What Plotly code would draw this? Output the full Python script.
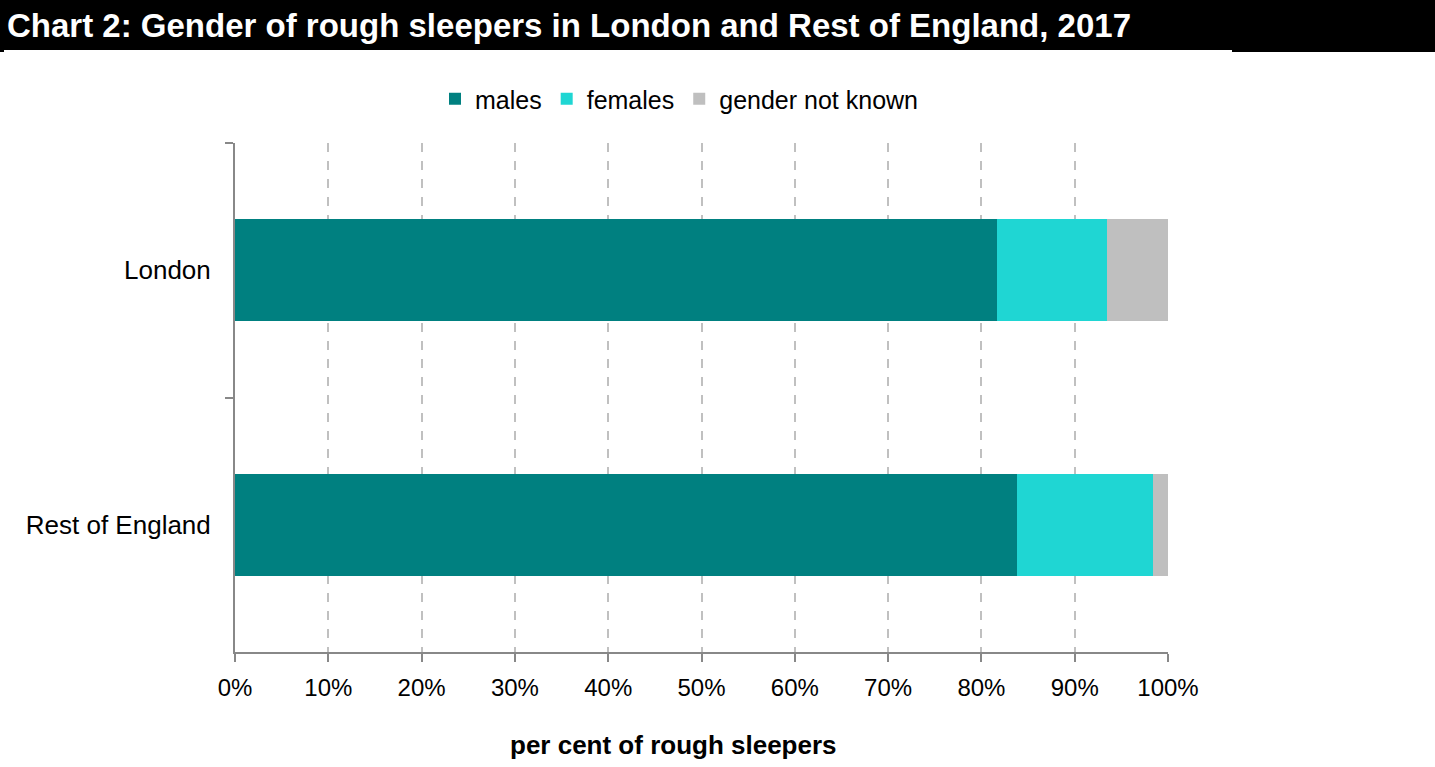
import plotly.graph_objects as go

categories = ["London", "Rest of England"]
males = [81.7, 83.8]
females = [11.8, 14.6]
not_known = [6.5, 1.6]
series_names = ["males", "females", "gender not known"]
colors = ["#008080", "#1FD6D3", "#BFBFBF"]
tick_vals = list(range(0, 101, 10))
tick_text = [f"{v}%" for v in tick_vals]

W, H = 1435, 767
L, R, T, B = 235, 1168, 143, 652
pw, ph = R - L, B - T

def px(x):
    return (x - L) / pw

def py(y):
    return (B - y) / ph

FONT = "Arial, Liberation Sans, sans-serif"

fig = go.Figure()
for name, vals, c in zip(series_names, [males, females, not_known], colors):
    fig.add_trace(go.Bar(
        y=categories, x=vals, name=name, orientation="h",
        marker=dict(color=c, line=dict(width=0)),
    ))

shapes = [
    dict(type="rect", xref="paper", yref="paper", x0=px(0), x1=px(W), y0=py(50), y1=py(0),
         fillcolor="black", line=dict(width=0), layer="above"),
    dict(type="rect", xref="paper", yref="paper", x0=px(0), x1=px(4), y0=py(52), y1=py(49),
         fillcolor="black", line=dict(width=0), layer="above"),
    dict(type="rect", xref="paper", yref="paper", x0=px(1232), x1=px(W), y0=py(52), y1=py(49),
         fillcolor="black", line=dict(width=0), layer="above"),
]

fig.update_layout(
    width=W, height=H,
    margin=dict(l=L, r=W - R, t=T, b=H - B, pad=0),
    paper_bgcolor="white", plot_bgcolor="white",
    barmode="stack", bargap=0.6,
    font=dict(family=FONT, size=22, color="#000000"),
    shapes=shapes,
    annotations=[
        dict(
            text="<b>Chart 2: Gender of rough sleepers in London and Rest of England, 2017</b>",
            xref="paper", yref="paper", x=px(5), y=py(26), xanchor="left", yanchor="middle",
            showarrow=False, font=dict(family=FONT, size=33, color="white"),
        ),
        dict(
            text="<b>per cent of rough sleepers</b>",
            xref="paper", yref="paper", x=px(673), y=py(745), xanchor="center", yanchor="middle",
            showarrow=False, font=dict(family=FONT, size=26, color="#000000"),
        ),
    ],
    legend=dict(
        orientation="h", x=px(679), y=py(99), xanchor="center", yanchor="middle",
        font=dict(family=FONT, size=25, color="#000000"),
        traceorder="normal", itemwidth=30, bgcolor="rgba(0,0,0,0)",
    ),
    xaxis=dict(
        range=[0, 100], tickvals=tick_vals, ticktext=tick_text,
        showgrid=True, gridcolor="#C0C0C0", griddash="dash", gridwidth=1.5,
        showline=True, linecolor="#888888", linewidth=2,
        ticks="outside", ticklen=8, tickcolor="#888888", tickwidth=2,
        tickfont=dict(family=FONT, size=24, color="#000000"),
        zeroline=False, ticklabelstandoff=5,
    ),
    yaxis=dict(
        categoryorder="array", categoryarray=categories, autorange="reversed",
        showline=True, linecolor="#888888", linewidth=2,
        ticks="outside", ticklen=8, tickcolor="#888888", tickwidth=2,
        tickson="boundaries", showgrid=False, zeroline=False,
        tickfont=dict(family=FONT, size=26, color="#000000"),
        ticklabelstandoff=17,
    ),
)

fig.write_html("out.html")
